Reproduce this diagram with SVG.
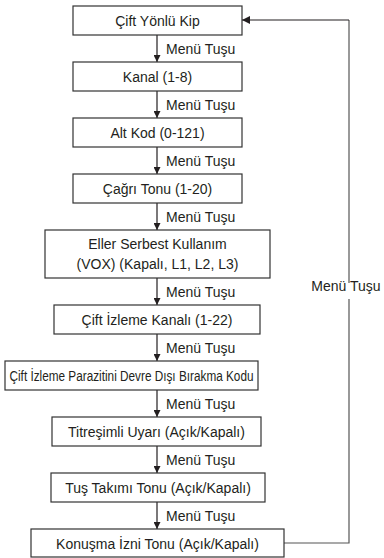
<svg xmlns="http://www.w3.org/2000/svg" width="384" height="558" viewBox="0 0 384 558">
<style>
.box{fill:#fff;stroke:#333;stroke-width:1.2}
.t{font-family:"Liberation Sans",Arial,sans-serif;font-size:14px;fill:#231f20;text-anchor:middle}
.l{font-family:"Liberation Sans",Arial,sans-serif;font-size:14px;fill:#231f20}
.c{stroke:#231f20;stroke-width:1.2;fill:none}
.loop{stroke:#555;stroke-width:1.2;fill:none}
</style>
<defs>
<marker id="ah" viewBox="0 0 10 10" refX="10" refY="5" markerWidth="7" markerHeight="7" markerUnits="userSpaceOnUse" orient="auto">
<path d="M0,0 L10,5 L0,10 z" fill="#231f20"/>
</marker>
<marker id="ah2" viewBox="0 0 10 10" refX="10" refY="5" markerWidth="8" markerHeight="8" markerUnits="userSpaceOnUse" orient="auto">
<path d="M0,0 L10,5 L0,10 z" fill="#231f20"/>
</marker>
</defs>

<g id="connectors">
<line class="c" x1="157" y1="35" x2="157" y2="62" marker-end="url(#ah)"/>
<line class="c" x1="157" y1="91" x2="157" y2="118" marker-end="url(#ah)"/>
<line class="c" x1="157" y1="147" x2="157" y2="174" marker-end="url(#ah)"/>
<line class="c" x1="157" y1="203" x2="157" y2="230" marker-end="url(#ah)"/>
<line class="c" x1="157" y1="278" x2="157" y2="305" marker-end="url(#ah)"/>
<line class="c" x1="157" y1="334" x2="157" y2="361" marker-end="url(#ah)"/>
<line class="c" x1="157" y1="390" x2="157" y2="417" marker-end="url(#ah)"/>
<line class="c" x1="157" y1="446" x2="157" y2="473" marker-end="url(#ah)"/>
<line class="c" x1="157" y1="502" x2="157" y2="529" marker-end="url(#ah)"/>
<text class="l" x="166" y="54">Menü Tuşu</text>
<text class="l" x="166" y="110">Menü Tuşu</text>
<text class="l" x="166" y="166">Menü Tuşu</text>
<text class="l" x="166" y="222">Menü Tuşu</text>
<text class="l" x="166" y="297">Menü Tuşu</text>
<text class="l" x="166" y="353">Menü Tuşu</text>
<text class="l" x="166" y="409">Menü Tuşu</text>
<text class="l" x="166" y="465">Menü Tuşu</text>
<text class="l" x="166" y="521">Menü Tuşu</text>
<path class="loop" d="M284,543 H349 V299"/>
<path class="loop" d="M349,283 V20"/>
<line class="c" x1="349" y1="20" x2="242" y2="20" marker-end="url(#ah2)"/>
<text class="t" x="346" y="291">Menü Tuşu</text>
</g>

<g id="n1"><rect class="box" x="73" y="6" width="169" height="29"/><text class="t" x="157.5" y="25.5">Çift Yönlü Kip</text></g>
<g id="n2"><rect class="box" x="73" y="62" width="169" height="29"/><text class="t" x="157.5" y="81.5">Kanal (1-8)</text></g>
<g id="n3"><rect class="box" x="73" y="118" width="169" height="29"/><text class="t" x="157.5" y="137.5">Alt Kod (0-121)</text></g>
<g id="n4"><rect class="box" x="73" y="174" width="169" height="29"/><text class="t" x="157.5" y="193.5">Çağrı Tonu (1-20)</text></g>
<g id="n5"><rect class="box" x="45" y="230" width="225" height="48"/><text class="t" x="157.5" y="249">Eller Serbest Kullanım</text><text class="t" x="157.5" y="269">(VOX) (Kapalı, L1, L2, L3)</text></g>
<g id="n6"><rect class="box" x="54" y="305" width="206" height="29"/><text class="t" x="157" y="324.5">Çift İzleme Kanalı (1-22)</text></g>
<g id="n7"><rect class="box" x="5" y="361" width="253" height="29"/><text class="t" x="131.5" y="380.5" textLength="244" lengthAdjust="spacingAndGlyphs">Çift İzleme Parazitini Devre Dışı Bırakma Kodu</text></g>
<g id="n8"><rect class="box" x="52" y="417" width="209" height="29"/><text class="t" x="156.5" y="436.5">Titreşimli Uyarı (Açık/Kapalı)</text></g>
<g id="n9"><rect class="box" x="51" y="473" width="214" height="29"/><text class="t" x="158" y="492.5">Tuş Takımı Tonu (Açık/Kapalı)</text></g>
<g id="n10"><rect class="box" x="31" y="529" width="253" height="28"/><text class="t" x="157.5" y="548.5">Konuşma İzni Tonu (Açık/Kapalı)</text></g>
</svg>
